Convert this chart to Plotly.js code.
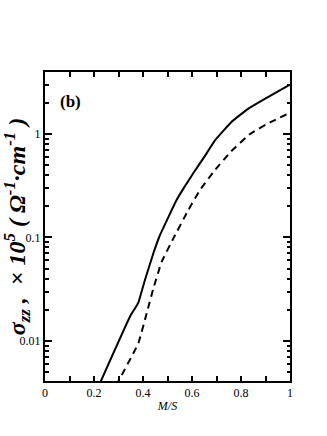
<!DOCTYPE html>
<html>
<head>
<meta charset="utf-8">
<script src="https://cdn.plot.ly/plotly-3.0.1.min.js"></script>
<style>
  body { margin: 0; background: #fff; }
  #graph { width: 327px; height: 436px; }
</style>
</head>
<body>
<div id="graph"></div>
<script>
// solid curve
var solidX = [0.22, 0.347, 0.381, 0.408, 0.442, 0.469, 0.505, 0.537, 0.57, 0.605, 0.65, 0.696, 0.76, 0.823, 0.89, 1.0];
var solidY = [0.0037, 0.0172, 0.0235, 0.0388, 0.07, 0.105, 0.16, 0.23, 0.31, 0.417, 0.6, 0.88, 1.3, 1.71, 2.13, 3.0];
// dashed curve
var dashX = [0.29, 0.381, 0.415, 0.442, 0.476, 0.524, 0.585, 0.633, 0.694, 0.76, 0.837, 0.92, 1.0];
var dashY = [0.0037, 0.0095, 0.0185, 0.032, 0.058, 0.098, 0.184, 0.288, 0.449, 0.68, 1.0, 1.3, 1.6];

// ticks
var xTicks = [0, 0.2, 0.4, 0.6, 0.8, 1];
var xTickText = ["0", "0.2", "0.4", "0.6", "0.8", "1"];
var xMinor = [0.1, 0.3, 0.5, 0.7, 0.9];
var yTicks = [0.01, 0.1, 1];
var yTickText = ["0.01", "0.1", "1"];
var yMinor = [0.005, 0.006, 0.007, 0.008, 0.009,
    0.02, 0.03, 0.04, 0.05, 0.06, 0.07, 0.08, 0.09,
    0.2, 0.3, 0.4, 0.5, 0.6, 0.7, 0.8, 0.9, 2, 3];

var yMin = 0.0041, yMax = 3.97;
var serif = '"Liberation Serif", "Times New Roman", serif';

function drawGraph() {
    var solid = {
        x: solidX,
        y: solidY,
        type: 'scatter',
        mode: 'lines',
        line: {color: '#000', width: 2, shape: 'spline', smoothing: 0.3},
        showlegend: false
    };
    var dashed = {
        x: dashX,
        y: dashY,
        type: 'scatter',
        mode: 'lines',
        line: {color: '#000', width: 2, dash: '7px,5px', shape: 'spline', smoothing: 0.3},
        showlegend: false
    };
    var layout = {
        width: 327,
        height: 436,
        margin: {l: 45, r: 37, t: 72, b: 55},
        paper_bgcolor: '#fff',
        plot_bgcolor: '#fff',
        font: {family: serif, color: '#000'},
        xaxis: {
            range: [0, 1],
            tickmode: 'array',
            tickvals: xTicks,
            ticktext: xTickText,
            ticks: 'inside',
            ticklen: 5,
            tickwidth: 1.5,
            tickcolor: '#000',
            minor: {tickmode: 'array', tickvals: xMinor, ticks: 'inside', ticklen: 5, tickwidth: 1.5, tickcolor: '#000'},
            showline: true,
            linewidth: 2,
            linecolor: '#000',
            mirror: 'ticks',
            showgrid: false,
            zeroline: false,
            tickfont: {family: serif, size: 12, color: '#000'},
            title: {text: '<i>M/S</i>', font: {family: serif, size: 12, color: '#000'}, standoff: 2}
        },
        yaxis: {
            type: 'log',
            range: [Math.log10(yMin), Math.log10(yMax)],
            tickmode: 'array',
            tickvals: yTicks,
            ticktext: yTickText,
            ticks: 'inside',
            ticklen: 7,
            tickwidth: 1.5,
            tickcolor: '#000',
            minor: {tickmode: 'array', tickvals: yMinor, ticks: 'inside', ticklen: 3.5, tickwidth: 1.5, tickcolor: '#000'},
            showline: true,
            linewidth: 2,
            linecolor: '#000',
            mirror: 'ticks',
            showgrid: false,
            zeroline: false,
            tickfont: {family: serif, size: 12, color: '#000'},
            title: {
                text: '<b><i>σ<sub>zz</sub> ,  × 10<sup>5</sup> ( Ω<sup>-1</sup>·cm<sup>-1</sup> )</i></b>',
                font: {family: serif, size: 24, color: '#000'},
                standoff: 2
            }
        },
        annotations: [{
            text: '<b>(b)</b>',
            xref: 'paper', yref: 'paper',
            x: 0.055, y: 0.905,
            xanchor: 'left', yanchor: 'middle',
            showarrow: false,
            font: {family: serif, size: 17, color: '#000'}
        }]
    };
    Plotly.newPlot('graph', [solid, dashed], layout, {displayModeBar: false});
}
drawGraph();
</script>
</body>
</html>
